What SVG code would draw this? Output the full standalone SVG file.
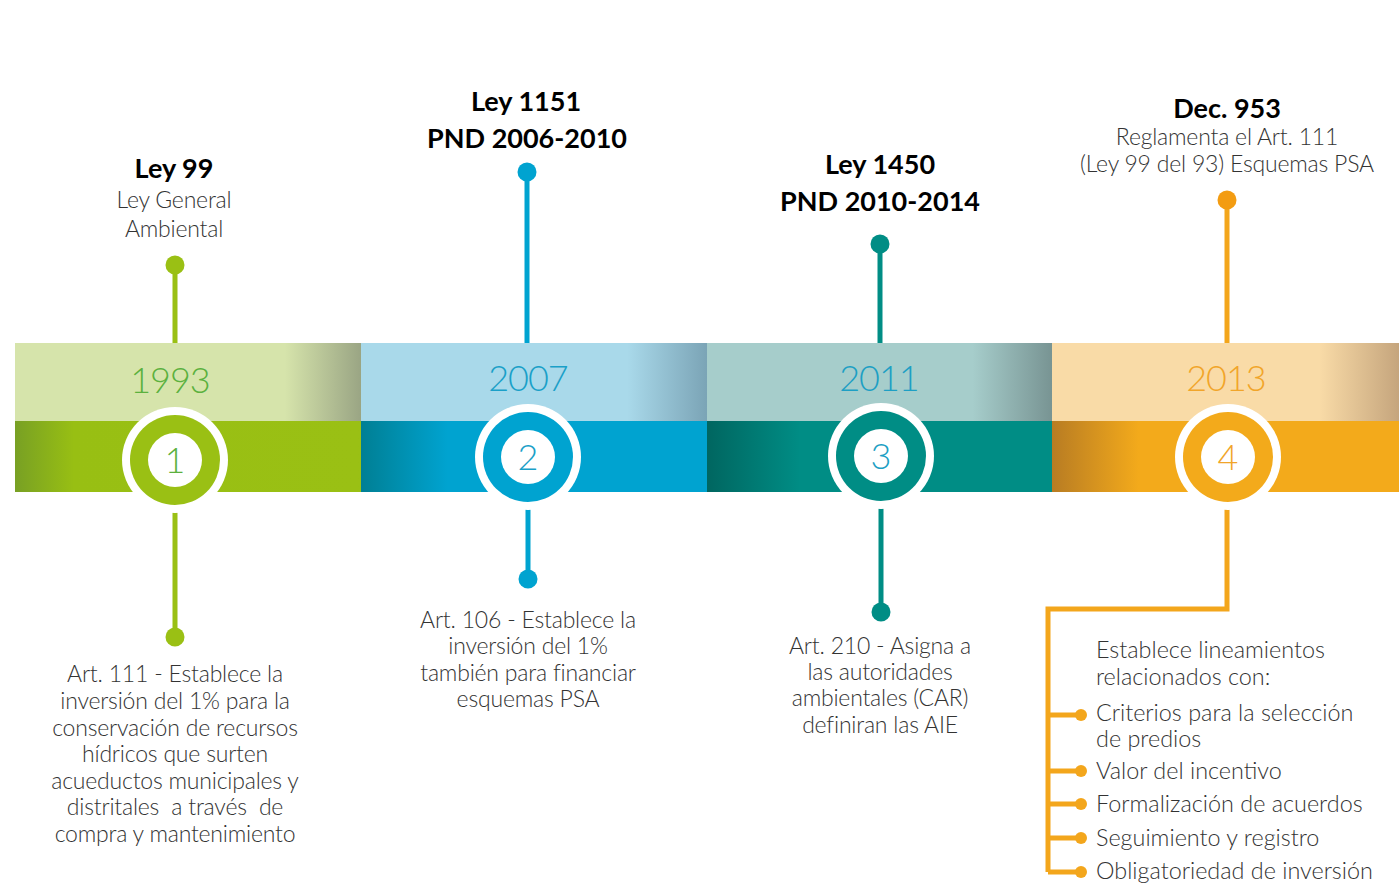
<svg xmlns="http://www.w3.org/2000/svg" width="1399" height="883" viewBox="0 0 1399 883">
<defs>
<linearGradient id="t1" x1="0" y1="0" x2="1" y2="0"><stop offset="0" stop-color="#d6e4ab"/><stop offset="0.78" stop-color="#d6e4ab"/><stop offset="1" stop-color="#9aa584"/></linearGradient>
<linearGradient id="b1" x1="0" y1="0" x2="1" y2="0"><stop offset="0" stop-color="#78a024"/><stop offset="0.17" stop-color="#98bf13"/><stop offset="1" stop-color="#9ac014"/></linearGradient>
<linearGradient id="t2" x1="0" y1="0" x2="1" y2="0"><stop offset="0" stop-color="#a9d9ea"/><stop offset="0.77" stop-color="#a9d9ea"/><stop offset="1" stop-color="#7ba4b6"/></linearGradient>
<linearGradient id="b2" x1="0" y1="0" x2="1" y2="0"><stop offset="0" stop-color="#007f94"/><stop offset="0.25" stop-color="#00a3d0"/><stop offset="1" stop-color="#00a3d0"/></linearGradient>
<linearGradient id="t3" x1="0" y1="0" x2="1" y2="0"><stop offset="0" stop-color="#a6cdcb"/><stop offset="0.77" stop-color="#a6cdcb"/><stop offset="1" stop-color="#789493"/></linearGradient>
<linearGradient id="b3" x1="0" y1="0" x2="1" y2="0"><stop offset="0" stop-color="#006660"/><stop offset="0.27" stop-color="#008d85"/><stop offset="1" stop-color="#008d85"/></linearGradient>
<linearGradient id="t4" x1="0" y1="0" x2="1" y2="0"><stop offset="0" stop-color="#f9dba7"/><stop offset="0.77" stop-color="#f9dba7"/><stop offset="1" stop-color="#c5a57d"/></linearGradient>
<linearGradient id="b4" x1="0" y1="0" x2="1" y2="0"><stop offset="0" stop-color="#b87c23"/><stop offset="0.25" stop-color="#f3aa1b"/><stop offset="1" stop-color="#f3aa1b"/></linearGradient>
</defs>
<style>
.h{font-family:Lato,"Open Sans","Liberation Sans",sans-serif;font-weight:700;font-size:27px;fill:#000;text-anchor:middle}
.s{font-family:Lato,"Open Sans","Liberation Sans",sans-serif;font-weight:300;font-size:23px;fill:#333;text-anchor:middle;letter-spacing:-0.2px}
.l{font-family:Lato,"Open Sans","Liberation Sans",sans-serif;font-weight:300;font-size:23.4px;fill:#333}
.yr{font-family:Lato,"Open Sans","Liberation Sans",sans-serif;font-weight:300;font-size:36px;text-anchor:middle;letter-spacing:-1px}
.num{font-family:Lato,"Open Sans","Liberation Sans",sans-serif;font-weight:300;font-size:36px;text-anchor:middle}
.pre{white-space:pre}
.c1{stroke:#9ac014}.c2{stroke:#00a3d0}.c3{stroke:#008d85}.c4{stroke:#f3a61c}
.ln{fill:none;stroke-width:5}
</style>
<g id="band">
<rect x="15" y="343" width="346" height="78" fill="url(#t1)"/>
<rect x="15" y="421" width="346" height="71" fill="url(#b1)"/>
<rect x="361" y="343" width="346" height="78" fill="url(#t2)"/>
<rect x="361" y="421" width="346" height="71" fill="url(#b2)"/>
<rect x="707" y="343" width="345" height="78" fill="url(#t3)"/>
<rect x="707" y="421" width="345" height="71" fill="url(#b3)"/>
<rect x="1052" y="343" width="347" height="78" fill="url(#t4)"/>
<rect x="1052" y="421" width="347" height="71" fill="url(#b4)"/>
<text class="yr" x="170" y="393" fill="#5bb13e">1993</text>
<text class="yr" x="528" y="391" fill="#1aa0c8">2007</text>
<text class="yr" x="879" y="391" fill="#1d9fc4">2011</text>
<text class="yr" x="1226" y="391" fill="#f1a52a">2013</text>
</g>
<g id="connectors">
<path class="ln c1" d="M175 265V343M175 505V637"/>
<circle cx="175" cy="265" r="9.5" fill="#9ac014"/>
<circle cx="175" cy="637" r="9.5" fill="#9ac014"/>
<path class="ln c2" d="M527 172V343M528 500V579"/>
<circle cx="527" cy="172" r="9.5" fill="#00a3d0"/>
<circle cx="528" cy="579" r="9.5" fill="#00a3d0"/>
<path class="ln c3" d="M880 244V343M881 500V612"/>
<circle cx="880" cy="244" r="9.5" fill="#008d85"/>
<circle cx="881" cy="612" r="9.5" fill="#008d85"/>
<path class="ln c4" d="M1227 200V343M1227 500V609H1048V872M1048 715H1081M1048 771H1081M1048 804H1081M1048 838H1081M1048 872H1081"/>
<circle cx="1227" cy="200" r="9.5" fill="#f39c12"/>
<g fill="#f3a61c">
<circle cx="1081" cy="715" r="6"/><circle cx="1081" cy="771" r="6"/><circle cx="1081" cy="804" r="6"/><circle cx="1081" cy="838" r="6"/><circle cx="1081" cy="872" r="6"/>
</g>
</g>
<g id="node1">
<text class="h" x="174" y="178">Ley 99</text>
<text class="s" x="174" y="208">Ley General</text>
<text class="s" x="174" y="237">Ambiental</text>
<circle cx="175" cy="460" r="53" fill="#fff"/>
<circle cx="175" cy="460" r="45" fill="#9ac014"/>
<circle cx="175" cy="460" r="27" fill="#fff"/>
<text class="num" x="175" y="473" fill="#5bb13e">1</text>
<text class="s" x="175" y="682">Art. 111 - Establece la</text>
<text class="s" x="175" y="709">inversión del 1% para la</text>
<text class="s" x="175" y="736">conservación de recursos</text>
<text class="s" x="175" y="762">hídricos que surten</text>
<text class="s" x="175" y="789">acueductos municipales y</text>
<text class="s pre" x="175" y="815">distritales  a través  de</text>
<text class="s" x="175" y="842">compra y mantenimiento</text>
</g>
<g id="node2">
<text class="h" x="526" y="111">Ley 1151</text>
<text class="h" x="527" y="148">PND 2006-2010</text>
<circle cx="528" cy="457" r="53" fill="#fff"/>
<circle cx="528" cy="457" r="45" fill="#00a3d0"/>
<circle cx="528" cy="457" r="27" fill="#fff"/>
<text class="num" x="528" y="470" fill="#1aa0c8">2</text>
<text class="s" x="528" y="628">Art. 106 - Establece la</text>
<text class="s" x="528" y="654">inversión del 1%</text>
<text class="s" x="528" y="681">también para financiar</text>
<text class="s" x="528" y="707">esquemas PSA</text>
</g>
<g id="node3">
<text class="h" x="880" y="174">Ley 1450</text>
<text class="h" x="880" y="211">PND 2010-2014</text>
<circle cx="881" cy="456" r="53" fill="#fff"/>
<circle cx="881" cy="456" r="45" fill="#008d85"/>
<circle cx="881" cy="456" r="27" fill="#fff"/>
<text class="num" x="881" y="469" fill="#1d9fc4">3</text>
<text class="s" x="880" y="654">Art. 210 - Asigna a</text>
<text class="s" x="880" y="680">las autoridades</text>
<text class="s" x="880" y="706">ambientales (CAR)</text>
<text class="s" x="880" y="733">definiran las AIE</text>
</g>
<g id="node4">
<text class="h" x="1227" y="118">Dec. 953</text>
<text class="s" x="1227" y="145">Reglamenta el Art. 111</text>
<text class="s" x="1227" y="172">(Ley 99 del 93) Esquemas PSA</text>
<circle cx="1228" cy="457" r="53" fill="#fff"/>
<circle cx="1228" cy="457" r="45" fill="#f3aa1b"/>
<circle cx="1228" cy="457" r="27" fill="#fff"/>
<text class="num" x="1228" y="470" fill="#f1a52a">4</text>
<text class="l" x="1096" y="658">Establece lineamientos</text>
<text class="l" x="1096" y="685">relacionados con:</text>
<text class="l" x="1096" y="721">Criterios para la selección</text>
<text class="l" x="1096" y="747">de predios</text>
<text class="l" x="1096" y="779">Valor del incentivo</text>
<text class="l" x="1096" y="812">Formalización de acuerdos</text>
<text class="l" x="1096" y="846">Seguimiento y registro</text>
<text class="l" x="1096" y="879">Obligatoriedad de inversión</text>
</g>
</svg>
